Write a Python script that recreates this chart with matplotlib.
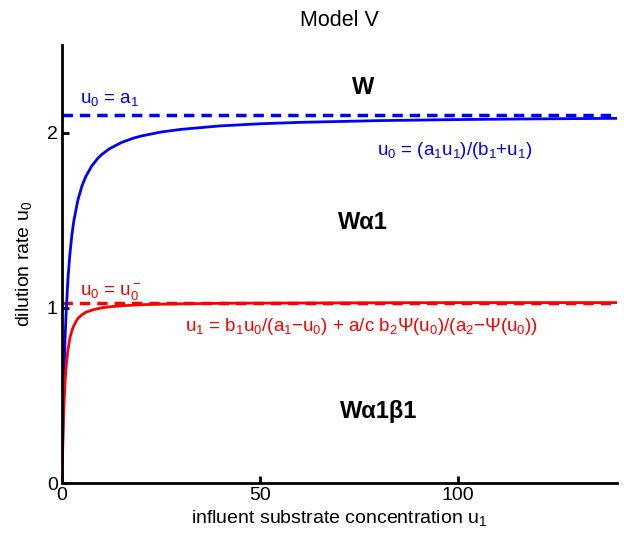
import matplotlib
matplotlib.use("Agg")
import matplotlib.pyplot as plt

plt.rcParams['font.family'] = ['Liberation Sans', 'DejaVu Sans']
plt.rcParams['mathtext.fontset'] = 'custom'
plt.rcParams['mathtext.rm'] = 'Liberation Sans'
plt.rcParams['mathtext.it'] = 'Liberation Sans'
plt.rcParams['mathtext.bf'] = 'Liberation Sans:bold'

# blue curve u0 = a1 u1/(b1+u1)
u1_blue = [0, 0.15, 0.3, 0.5, 0.75, 1, 1.5, 2, 2.5, 3, 4, 5, 6, 7.5, 9, 10, 12, 15,
           18, 20, 25, 30, 40, 50, 60, 70, 80, 100, 120, 140]
u0_blue = [0, 0.234, 0.42, 0.62, 0.81, 0.955, 1.167, 1.31, 1.419, 1.5, 1.615, 1.694,
           1.75, 1.81, 1.853, 1.875, 1.909, 1.944, 1.969, 1.981, 2.004, 2.019,
           2.039, 2.051, 2.059, 2.064, 2.069, 2.075, 2.079, 2.082]

# red curve
u1_red = [0, 0.1, 0.2, 0.3, 0.45, 0.6, 0.8, 1, 1.25, 1.5, 2, 2.5, 3, 4, 5, 6, 8,
          10, 12, 15, 20, 25, 30, 40, 50, 65, 80, 100, 140]
u0_red = [0, 0.12, 0.22, 0.30, 0.41, 0.50, 0.59, 0.65, 0.71, 0.76, 0.83, 0.87, 0.90,
          0.94, 0.96, 0.975, 0.99, 1.0, 1.006, 1.012, 1.018, 1.021, 1.023, 1.026,
          1.027, 1.028, 1.029, 1.03, 1.03]

a1 = 2.1          # blue asymptote
u0_minus = 1.03   # red asymptote
x_range = [0, 140]

fig = plt.figure(figsize=(6.24, 5.34), dpi=100)
ax = fig.add_axes([0.0994, 0.0955, 0.889, 0.82])

ax.plot(x_range, [a1, a1], color='blue', linestyle=(0, (3, 2)), linewidth=2.5)
ax.plot(x_range, [u0_minus, u0_minus], color='red', linestyle=(0, (3, 2)), linewidth=2.5)
ax.plot(u1_blue, u0_blue, color='blue', linewidth=2)
ax.plot(u1_red, u0_red, color='red', linewidth=2)

ax.set_xlim(0, 140)
ax.set_ylim(0, 2.5)
ax.set_xticks([0, 50, 100])
ax.set_yticks([0, 1, 2])
ax.spines['top'].set_visible(False)
ax.spines['right'].set_visible(False)
for s in ['left', 'bottom']:
    ax.spines[s].set_linewidth(2)
ax.tick_params(direction='in', length=5, width=2, labelsize=14, pad=3)

ax.set_title('Model V', fontsize=15.5, pad=14)
ax.set_xlabel('influent substrate concentration u$_1$', fontsize=14, labelpad=3)
ax.set_ylabel('dilution rate u$_0$', fontsize=14, labelpad=9)

ax.text(4.5, 2.17, 'u$_0$ = a$_1$', color='blue', fontsize=13.5)
ax.text(79.5, 1.87, 'u$_0$ = (a$_1$u$_1$)/(b$_1$+u$_1$)', color='blue', fontsize=13.5)
ax.text(4.5, 1.07, 'u$_0$ = u$_0^-$', color='red', fontsize=13.5)
ax.text(75.5, 0.87, 'u$_1$ = b$_1$u$_0$/(a$_1$\u2212u$_0$) + a/c b$_2$\u03a8(u$_0$)/(a$_2$\u2212\u03a8(u$_0$))',
        color='red', fontsize=13.5, ha='center')

ax.text(76, 2.26, 'W', fontsize=17, fontweight='bold', ha='center', va='center')
ax.text(76, 1.49, 'W\u03b11', fontsize=17, fontweight='bold', ha='center', va='center')
ax.text(80, 0.41, 'W\u03b11\u03b21', fontsize=17, fontweight='bold', ha='center', va='center')

fig.savefig('out.png', dpi=100)
